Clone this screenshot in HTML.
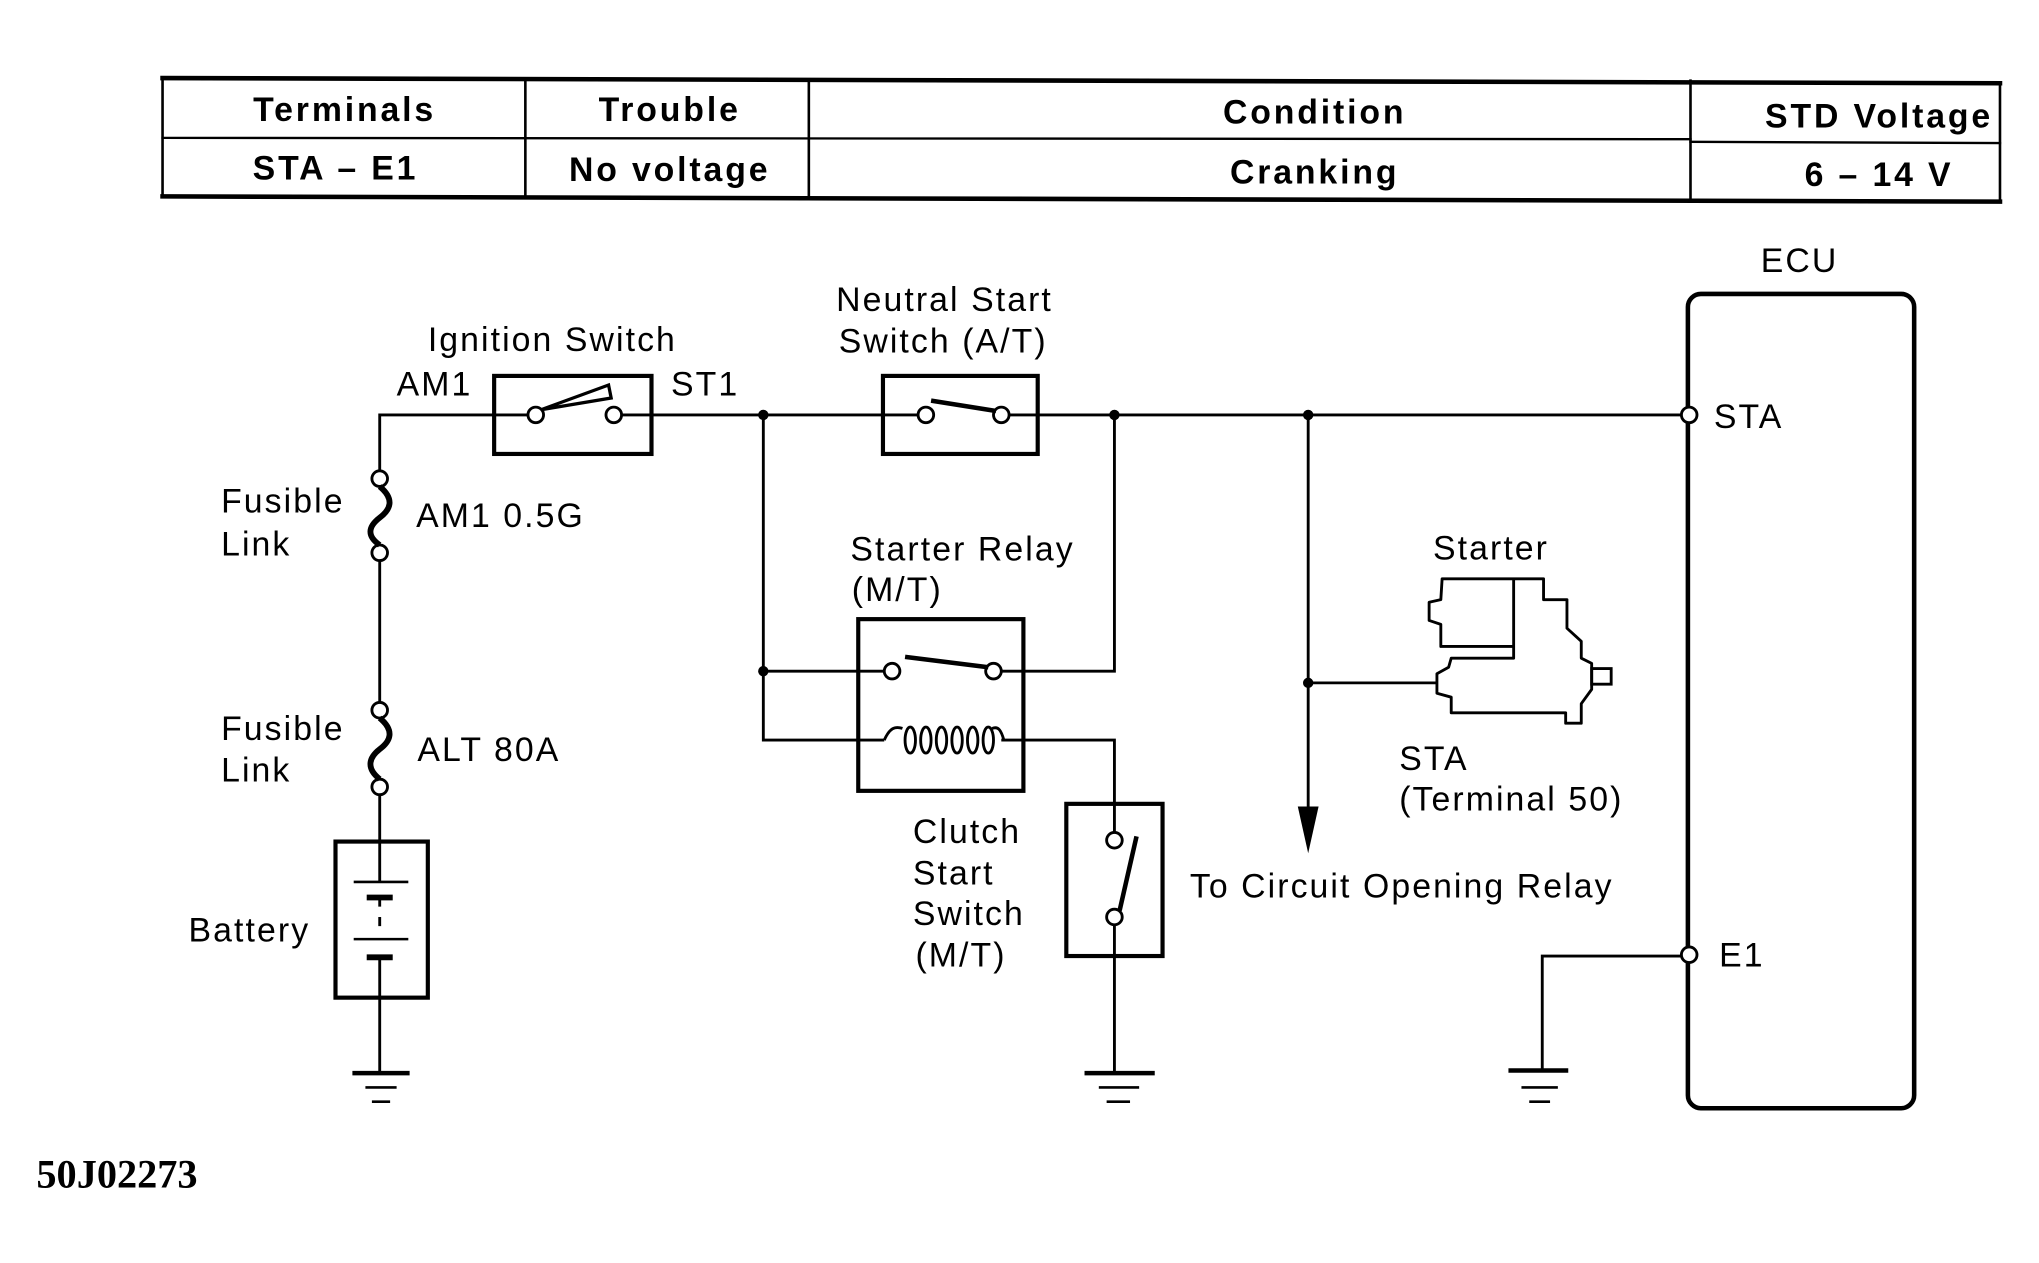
<!DOCTYPE html>
<html><head><meta charset="utf-8"><style>
html,body{margin:0;padding:0;background:#fff;}
svg{display:block;}
text{font-family:"Liberation Sans",sans-serif;fill:#000;}
.l{letter-spacing:1.6px;}
.b{letter-spacing:2.2px;}
</style></head><body>
<svg width="2039" height="1263" viewBox="0 0 1568 971" preserveAspectRatio="none" xmlns="http://www.w3.org/2000/svg">
<g stroke="#000" fill="none" stroke-linecap="square">
<path d="M125 60 L1538 64" stroke-width="3.5"/>
<path d="M125 106 L1300 107 M1300 109 L1538 110" stroke-width="1.8"/>
<path d="M125 151 L1538 155" stroke-width="3.5"/>
<path d="M125 60 V151 M404 61 V152 M622 61 V152 M1300 62 V154 M1538 64 V155" stroke-width="2"/>
</g>
<g font-weight="bold" font-size="26" text-anchor="middle" class="b">
<text x="265" y="93">Terminals</text>
<text x="515" y="93">Trouble</text>
<text x="1011" y="95">Condition</text>
<text x="1445" y="98">STD Voltage</text>
<text x="258" y="138">STA  – E1</text>
<text x="515" y="139">No voltage</text>
<text x="1011" y="141">Cranking</text>
<text x="1445" y="143">6 – 14 V</text>
</g>

<g stroke="#000" fill="none" stroke-width="2.2">
<path d="M292 362 V319 H406 M478 319 H706 M776 319 H1293"/>
<path d="M292 425 V540 M292 611 V647"/>
<rect x="380" y="289" width="121" height="60" stroke-width="3.2"/>
<circle cx="412" cy="319" r="6" fill="#fff"/>
<circle cx="472" cy="319" r="6" fill="#fff"/>
<path d="M416 315 L468 296 L470 306 Z" stroke-width="2.5"/>
<rect x="679" y="289" width="119" height="60" stroke-width="3.2"/>
<circle cx="712" cy="319" r="6" fill="#fff"/>
<circle cx="770" cy="319" r="6" fill="#fff"/>
<path d="M716 308 L766 316" stroke-width="3.5"/>
<circle cx="292" cy="368" r="6" fill="#fff"/>
<circle cx="292" cy="425" r="6" fill="#fff"/>
<path d="M292 374 C304 384,300 392,292 398 C283 405,282 412,292 419" stroke-width="4.5"/>
<circle cx="292" cy="546" r="6" fill="#fff"/>
<circle cx="292" cy="605" r="6" fill="#fff"/>
<path d="M292 552 C304 562,300 570,292 576 C283 583,282 591,292 599" stroke-width="4.5"/>
<rect x="258" y="647" width="71" height="120" stroke-width="3.2"/>
<path d="M292 647 V678 M292 690 V697 M292 705 V712 M292 736 V825"/>
<path d="M272 678 H314 M272 722 H314" stroke-width="2"/>
<path d="M282 690 H302 M282 736 H302" stroke-width="4.5"/>
<path d="M271 825 H315 M834 825 H888 M1160 823 H1206" stroke-width="3.5"/>
<path d="M281 836 H305 M845 836 H876 M1170 836 H1198" stroke-width="2"/>
<path d="M286 847 H300 M851 847 H869 M1176 847 H1192" stroke-width="2"/>
<path d="M587 319 V569 H680 M587 516 H680 M770 516 H857 V319"/>
<path d="M770 569 H857 V640 M857 711 V825"/>
<rect x="660" y="476" width="127" height="132" stroke-width="3.2"/>
<circle cx="686" cy="516" r="6" fill="#fff"/>
<circle cx="764" cy="516" r="6" fill="#fff"/>
<path d="M696 505 L760 513" stroke-width="3.5"/>
<path d="M680 569 C684 560,688 558,694 560 M763 560 C768 558,770 562,772 569" stroke-width="2.2"/>
<g stroke-width="2.2">
<ellipse cx="700" cy="569" rx="4" ry="10"/>
<ellipse cx="712" cy="569" rx="4" ry="10"/>
<ellipse cx="724" cy="569" rx="4" ry="10"/>
<ellipse cx="736" cy="569" rx="4" ry="10"/>
<ellipse cx="748" cy="569" rx="4" ry="10"/>
<ellipse cx="760" cy="569" rx="4" ry="10"/>
</g>
<rect x="820" y="618" width="74" height="117" stroke-width="3.2"/>
<circle cx="857" cy="646" r="6" fill="#fff"/>
<circle cx="857" cy="705" r="6" fill="#fff"/>
<path d="M861 700 L874 643" stroke-width="3.5"/>
<path d="M1006 319 V625 M1006 525 H1104"/>
<g transform="translate(5,3)">
<path d="M1104 442 H1182 V458 H1200 V480 L1211 490 V503 L1219 507 V527 L1211 538 V553 H1199 V545 H1111 V533 L1100 530 V515 L1109 510 L1111 503 H1159 V494 H1103 V477 L1094 474 V460 L1103 458 Z M1159 442 V494" stroke-width="2.2" stroke-linejoin="round"/>
<rect x="1219" y="511" width="15" height="12" stroke-width="2.2"/>
</g>
<rect x="1298" y="226" width="174" height="626" rx="10" stroke-width="3.5"/>
<circle cx="1299" cy="319" r="6" fill="#fff"/>
<circle cx="1299" cy="734" r="6" fill="#fff"/>
<path d="M1293 735 H1186 V823"/>
</g>
<g fill="#000">
<circle cx="587" cy="319" r="4"/>
<circle cx="857" cy="319" r="4"/>
<circle cx="1006" cy="319" r="4"/>
<circle cx="587" cy="516" r="4"/>
<circle cx="1006" cy="525" r="4"/>
<path d="M998 620 L1014 620 L1006 656 Z"/>
</g>
<g font-size="26" class="l">
<text x="329" y="270">Ignition Switch</text>
<text x="305" y="304">AM1</text>
<text x="516" y="304">ST1</text>
<text x="643" y="239">Neutral Start</text>
<text x="645" y="271">Switch (A/T)</text>
<text x="170" y="394">Fusible</text>
<text x="170" y="427">Link</text>
<text x="320" y="405">AM1 0.5G</text>
<text x="170" y="569">Fusible</text>
<text x="170" y="601">Link</text>
<text x="321" y="585">ALT 80A</text>
<text x="145" y="724">Battery</text>
<text x="654" y="431">Starter Relay</text>
<text x="655" y="462">(M/T)</text>
<text x="702" y="648">Clutch</text>
<text x="702" y="680">Start</text>
<text x="702" y="711">Switch</text>
<text x="704" y="743">(M/T)</text>
<text x="915" y="690">To Circuit Opening Relay</text>
<text x="1102" y="430">Starter</text>
<text x="1076" y="592">STA</text>
<text x="1076" y="623">(Terminal 50)</text>
<text x="1354" y="209">ECU</text>
<text x="1318" y="329">STA</text>
<text x="1322" y="743">E1</text>
</g>
<text x="28" y="913" font-weight="bold" font-size="31" style="font-family:'Liberation Serif',serif">50J02273</text>
</svg>
</body></html>
